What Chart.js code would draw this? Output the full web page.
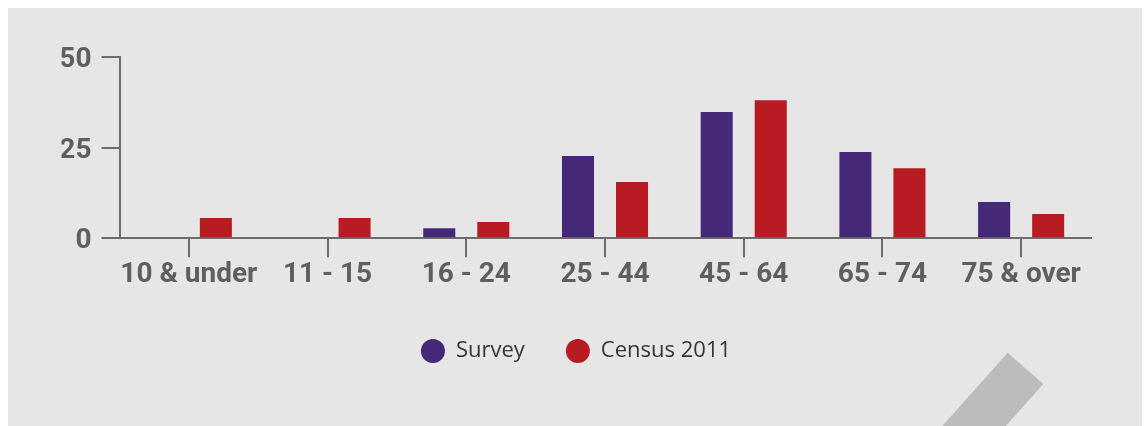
<!DOCTYPE html>
<html>
<head>
<meta charset="utf-8">
<script src="https://cdn.jsdelivr.net/npm/chart.js@4"></script>
<style>
  html, body { margin: 0; padding: 0; overflow: hidden; background: #ffffff; }
  body { padding: 8px 0 0 8px; width: 1144px; height: 426px; box-sizing: border-box; }
  #wrap { position: relative; width: 1134px; height: 430px; background: #e6e6e6; overflow: hidden; }
  #stripe { position: absolute; left: 0; top: 0; width: 1134px; height: 430px; background: #bbbcbd;
    clip-path: polygon(999.7px 344.7px, 1035.3px 376px, 987.1px 430px, 923.6px 430px); }
  canvas { position: absolute; left: 0; top: 0; }
</style>
</head>
<body>
<div id="wrap">
  <div id="stripe"></div>
  <canvas id="c" width="1134" height="418"></canvas>
</div>
<script>
const categories = ["10 & under", "11 - 15", "16 - 24", "25 - 44", "45 - 64", "65 - 74", "75 & over"];
const surveyValues = [0, 0, 2.8, 22.7, 34.8, 23.8, 10.0];
const censusValues = [5.6, 5.6, 4.5, 15.5, 38.1, 19.3, 6.7];
const seriesNames = ["Survey", "Census 2011"];
const yTicks = [0, 25, 50];

const axisColor = '#6d6d6d';
const tickFont = { family: 'Roboto', size: 28, weight: 'bold' };

new Chart(document.getElementById('c'), {
  type: 'bar',
  data: {
    labels: categories,
    datasets: [
      { label: seriesNames[0], data: surveyValues, backgroundColor: '#452878', borderWidth: 0 },
      { label: seriesNames[1], data: censusValues, backgroundColor: '#b81c22', borderWidth: 0 }
    ]
  },
  options: {
    responsive: false,
    animation: false,
    devicePixelRatio: 1,
    categoryPercentage: 0.779,
    barPercentage: 0.593,
    layout: { padding: { top: 49, left: 53.5, right: 51.5, bottom: 54 } },
    plugins: {
      tooltip: { enabled: false },
      legend: {
        position: 'bottom',
        align: 'center',
        labels: {
          usePointStyle: true,
          pointStyle: 'circle',
          boxHeight: 17,
          pointStyleWidth: 24,
          padding: 41,
          color: '#353535',
          font: { family: 'Open Sans', size: 22 }
        }
      }
    },
    scales: {
      x: {
        afterFit: s => { s.height = 60.7; },
        grid: { offset: false, drawOnChartArea: false, drawTicks: true, tickLength: 19, color: axisColor, lineWidth: 2 },
        border: { display: true, color: axisColor, width: 2 },
        ticks: { color: '#5f5f5f', font: tickFont, padding: 1, maxRotation: 0, autoSkip: false }
      },
      y: {
        min: 0,
        max: 50,
        afterFit: s => { s.width = 58; },
        afterBuildTicks: s => { s.ticks = yTicks.map(v => ({ value: v })); },
        grid: { drawOnChartArea: false, drawTicks: true, tickLength: 18, color: axisColor, lineWidth: 2 },
        border: { display: true, color: axisColor, width: 2 },
        ticks: { color: '#5f5f5f', font: tickFont, padding: 10, labelOffset: 3 }
      }
    }
  }
});
</script>
</body>
</html>
